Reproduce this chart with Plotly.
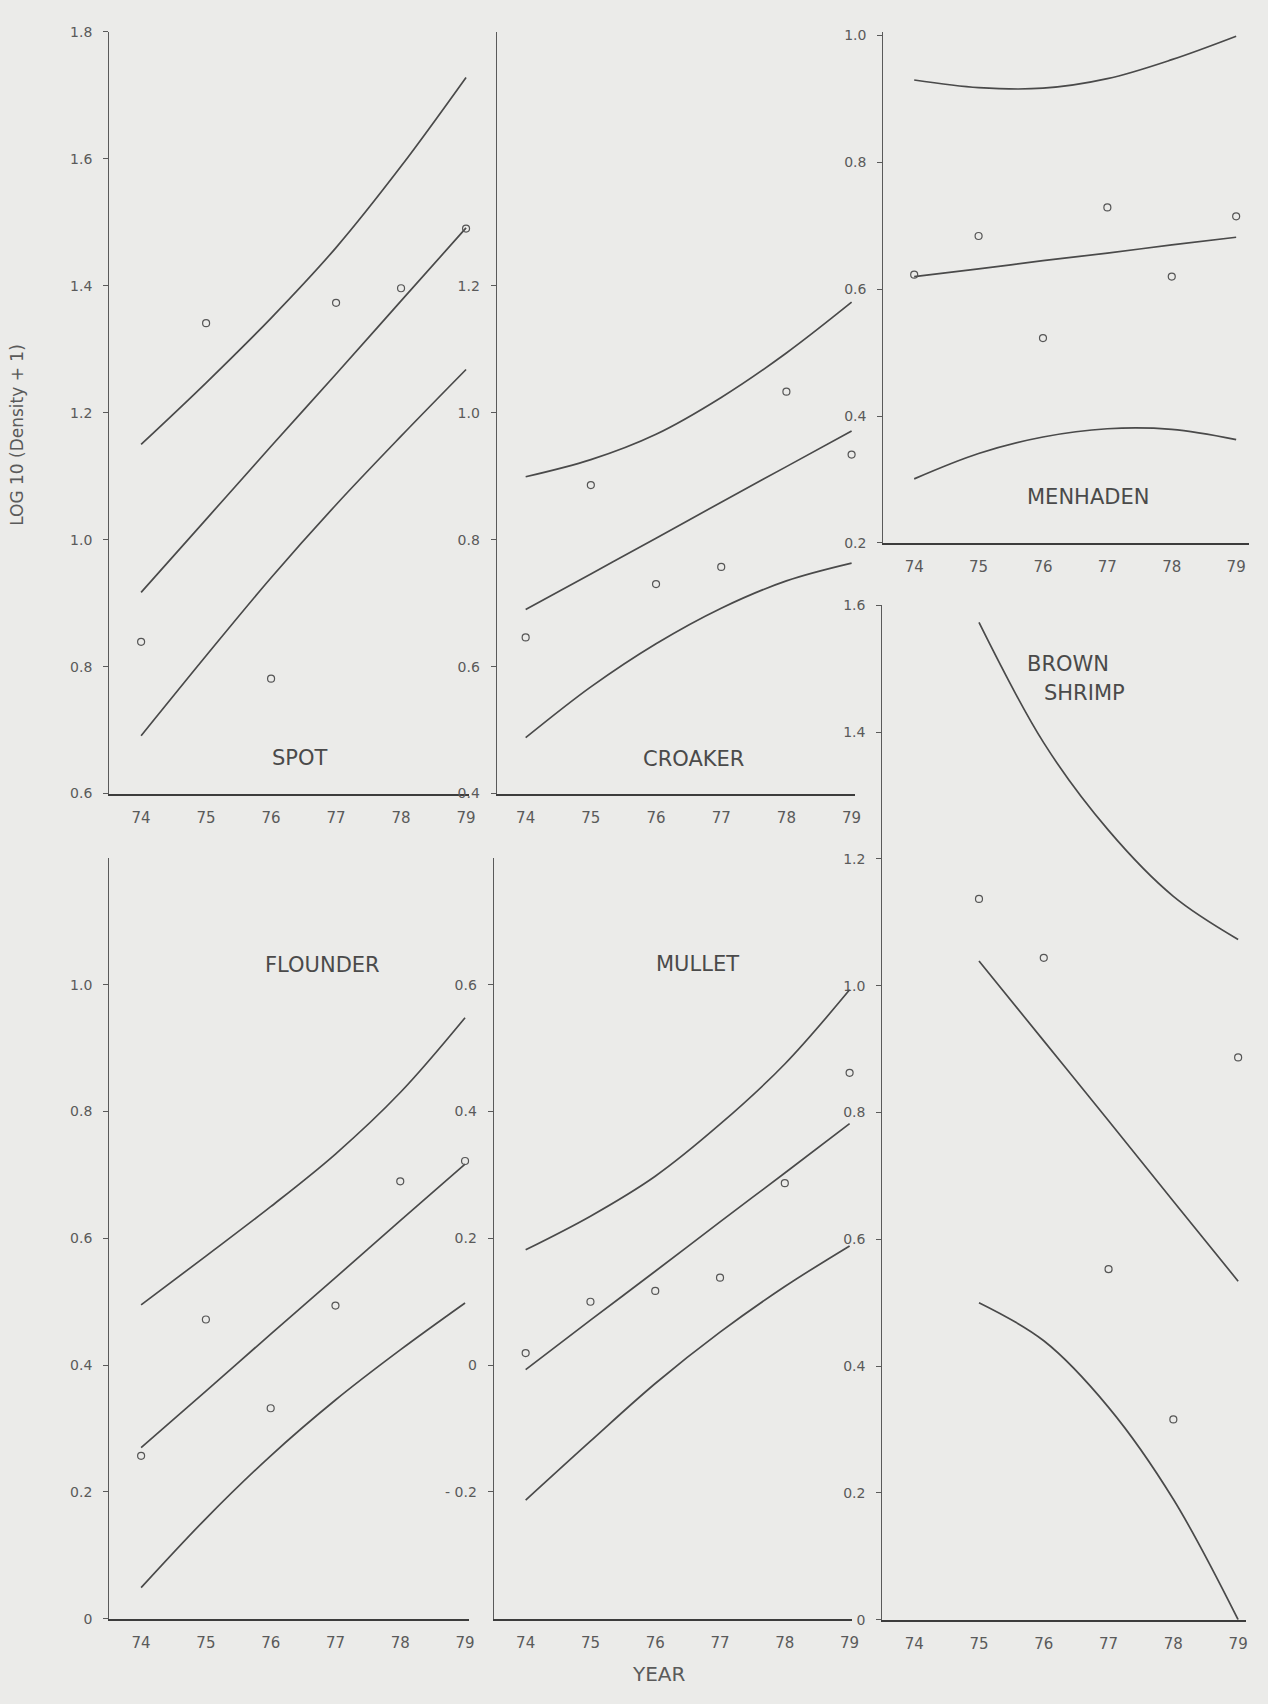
import plotly.graph_objects as go

# ---------------- data ----------------
years = [74, 75, 76, 77, 78, 79]
shrimp_years = [75, 76, 77, 78, 79]

spot_obs = [0.839, 1.341, 0.781, 1.373, 1.396, 1.490]
spot_fit = [0.917, 1.032, 1.147, 1.261, 1.376, 1.491]
spot_upper = [1.150, 1.247, 1.349, 1.460, 1.588, 1.728]
spot_lower = [0.691, 0.817, 0.940, 1.055, 1.163, 1.268]

croaker_obs = [0.646, 0.886, 0.730, 0.757, 1.033, 0.934]
croaker_fit = [0.690, 0.746, 0.802, 0.859, 0.915, 0.971]
croaker_upper = [0.899, 0.926, 0.966, 1.024, 1.094, 1.174]
croaker_lower = [0.488, 0.568, 0.636, 0.692, 0.735, 0.763]

menhaden_obs = [0.623, 0.684, 0.523, 0.729, 0.620, 0.715]
menhaden_fit = [0.620, 0.632, 0.645, 0.657, 0.670, 0.682]
menhaden_upper = [0.930, 0.918, 0.917, 0.932, 0.962, 0.999]
menhaden_lower = [0.301, 0.341, 0.367, 0.380, 0.379, 0.363]

shrimp_obs = [1.137, 1.044, 0.553, 0.316, 0.887]
shrimp_fit = [1.039, 0.913, 0.787, 0.660, 0.534]
shrimp_upper = [1.573, 1.383, 1.245, 1.141, 1.073]
shrimp_lower = [0.500, 0.440, 0.335, 0.190, 0.000]

flounder_obs = [0.257, 0.472, 0.332, 0.494, 0.690, 0.722]
flounder_fit = [0.270, 0.359, 0.449, 0.538, 0.628, 0.717]
flounder_upper = [0.495, 0.572, 0.650, 0.733, 0.830, 0.948]
flounder_lower = [0.049, 0.158, 0.257, 0.345, 0.424, 0.498]

mullet_obs = [0.019, 0.100, 0.117, 0.138, 0.287, 0.461]
mullet_fit = [-0.007, 0.071, 0.148, 0.226, 0.303, 0.381]
mullet_upper = [0.182, 0.235, 0.298, 0.380, 0.475, 0.592]
mullet_lower = [-0.213, -0.120, -0.029, 0.052, 0.124, 0.188]

spot_ticks = [0.6, 0.8, 1.0, 1.2, 1.4, 1.6, 1.8]
croaker_ticks = [0.4, 0.6, 0.8, 1.0, 1.2]
menhaden_ticks = [0.2, 0.4, 0.6, 0.8, 1.0]
shrimp_ticks = [0, 0.2, 0.4, 0.6, 0.8, 1.0, 1.2, 1.4, 1.6]
flounder_ticks = [0, 0.2, 0.4, 0.6, 0.8, 1.0]
mullet_ticks = [-0.2, 0, 0.2, 0.4, 0.6]

# ---------------- layout (pixel geometry of the page) ----------------
W, H = 1268, 1704
BG = "#ebebe9"
LINE = "#4a4a4a"
TXT = "#5a5a5a"
FONT = "DejaVu Sans"

panels = [
    dict(name="SPOT", x=years, obs=spot_obs, fit=spot_fit, up=spot_upper, lo=spot_lower,
         ticks=spot_ticks, yr=[0.6, 1.8], L=110, P74=142, P79=469, R=472, top=24, bot=793,
         labels=[("SPOT", 302, 757)]),
    dict(name="CROAKER", x=years, obs=croaker_obs, fit=croaker_fit, up=croaker_upper, lo=croaker_lower,
         ticks=croaker_ticks, yr=[0.4, 1.6], L=500, P74=529, P79=857, R=860, top=24, bot=793,
         labels=[("CROAKER", 698, 758)]),
    dict(name="MENHADEN", x=years, obs=menhaden_obs, fit=menhaden_fit, up=menhaden_upper, lo=menhaden_lower,
         ticks=menhaden_ticks, yr=[0.2, 1.006], L=889, P74=920, P79=1244, R=1257, top=24, bot=540,
         labels=[("MENHADEN", 1095, 494)]),
    dict(name="BROWN SHRIMP", x=shrimp_years, obs=shrimp_obs, fit=shrimp_fit, up=shrimp_upper, lo=shrimp_lower,
         ticks=shrimp_ticks, yr=[0, 1.6], L=888, P74=920, P79=1246, R=1254, top=603, bot=1627,
         labels=[("BROWN", 1075, 662), ("SHRIMP", 1091, 691)]),
    dict(name="FLOUNDER", x=years, obs=flounder_obs, fit=flounder_fit, up=flounder_upper, lo=flounder_lower,
         ticks=flounder_ticks, yr=[0, 1.2], L=110, P74=142, P79=468, R=472, top=858, bot=1626,
         labels=[("FLOUNDER", 325, 966)]),
    dict(name="MULLET", x=years, obs=mullet_obs, fit=mullet_fit, up=mullet_upper, lo=mullet_lower,
         ticks=mullet_ticks, yr=[-0.4, 0.8], L=497, P74=529, P79=855, R=857, top=858, bot=1626,
         labels=[("MULLET", 702, 965)]),
]


def fmt(v):
    if abs(v) < 1e-9:
        return "0"
    return f"{v:.1f}"


fig = go.Figure()
annotations = []
layout = {}

for i, p in enumerate(panels):
    k = "" if i == 0 else str(i + 1)
    xa, ya = "x" + k, "y" + k
    for series in (p["up"], p["fit"], p["lo"]):
        fig.add_trace(go.Scatter(
            x=p["x"], y=series, mode="lines", xaxis=xa, yaxis=ya,
            line=dict(color=LINE, width=1.7, shape="spline", smoothing=1.0),
            hoverinfo="skip", showlegend=False))
    fig.add_trace(go.Scatter(
        x=p["x"], y=p["obs"], mode="markers", xaxis=xa, yaxis=ya,
        marker=dict(symbol="circle-open", size=7, color="#555555", line=dict(width=1.2)),
        cliponaxis=False, showlegend=False, name=p["name"]))

    s = (p["P79"] - p["P74"]) / 5.0
    xr = [74 - (p["P74"] - p["L"]) / s, 79 + (p["R"] - p["P79"]) / s]
    layout["xaxis" + k] = dict(
        domain=[p["L"] / W, p["R"] / W], range=xr, anchor=ya,
        showline=True, linecolor="#3c3c3c", linewidth=2.2,
        tickvals=years, ticktext=[str(y) for y in years], ticks="",
        ticklabelstandoff=9,
        tickfont=dict(family=FONT, size=15, color=TXT),
        showgrid=False, zeroline=False, fixedrange=True)
    layout["yaxis" + k] = dict(
        domain=[1 - p["bot"] / H, 1 - p["top"] / H], range=p["yr"], anchor=xa,
        showline=True, linecolor="#5a5a5a", linewidth=1.4,
        tickvals=p["ticks"], ticktext=[("- 0.2" if t < 0 else fmt(t)) for t in p["ticks"]],
        ticks="outside", ticklen=5, tickwidth=1.2, tickcolor="#5a5a5a",
        ticklabelstandoff=8,
        tickfont=dict(family=FONT, size=14, color=TXT),
        showgrid=False, zeroline=False, fixedrange=True)
    for txt, px, py in p["labels"]:
        annotations.append(dict(
            text=txt, x=px / W, y=1 - py / H, xref="paper", yref="paper",
            xanchor="center", yanchor="middle", showarrow=False,
            font=dict(family=FONT, size=21, color="#4a4a4a")))

annotations.append(dict(
    text="YEAR", x=663 / W, y=1 - 1682 / H, xref="paper", yref="paper",
    xanchor="center", yanchor="middle", showarrow=False,
    font=dict(family=FONT, size=20, color=TXT)))
annotations.append(dict(
    text="LOG 10 (Density + 1)", x=17 / W, y=1 - 431 / H, xref="paper", yref="paper",
    xanchor="center", yanchor="middle", showarrow=False, textangle=-90,
    font=dict(family=FONT, size=17, color=TXT)))

fig.update_layout(
    width=W, height=H,
    margin=dict(l=0, r=0, t=0, b=0),
    paper_bgcolor=BG, plot_bgcolor=BG,
    annotations=annotations,
    showlegend=False,
    **layout)

fig.write_html(
    "out.html",
    config={"displayModeBar": False},
    post_script="document.body.style.margin='0';document.body.style.background='%s';" % BG,
)
